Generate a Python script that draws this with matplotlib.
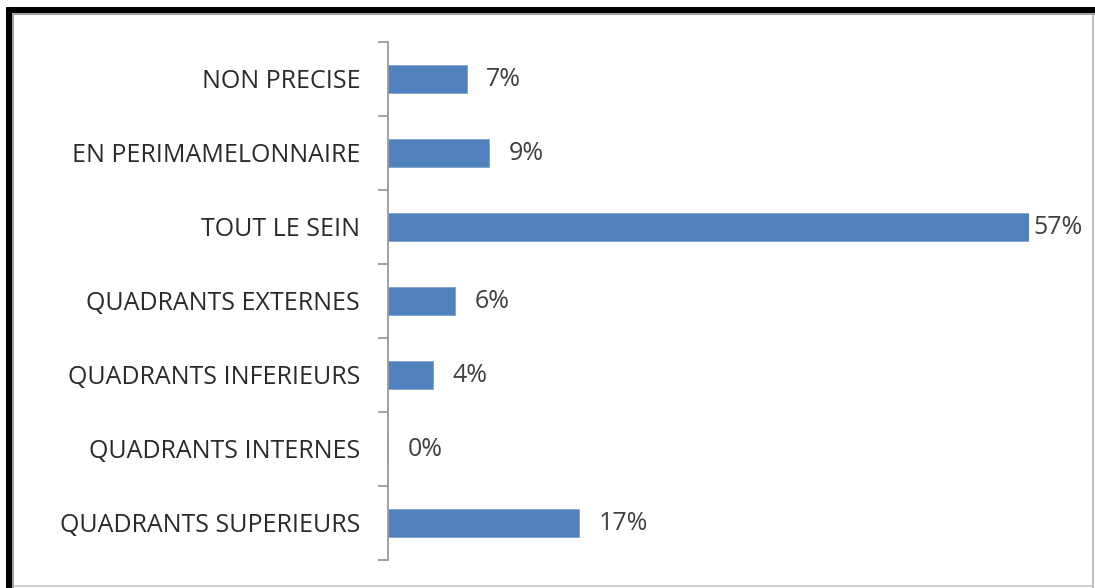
import matplotlib

matplotlib.use("Agg")

import matplotlib.pyplot as plt  # noqa: E402
from matplotlib.patches import Rectangle  # noqa: E402

categories = ["NON PRECISE", "EN PERIMAMELONNAIRE", "TOUT LE SEIN", "QUADRANTS EXTERNES",
              "QUADRANTS INFERIEURS", "QUADRANTS INTERNES", "QUADRANTS SUPERIEURS"]
values = [7, 9, 57, 6, 4, 0, 17]
value_labels = ["7%", "9%", "57%", "6%", "4%", "0%", "17%"]

W, H = 1095, 588
plt.rcParams["font.family"] = ["Open Sans", "DejaVu Sans"]

fig = plt.figure(figsize=(W / 100, H / 100), dpi=100)
fig.patch.set_facecolor("white")

# frame: thick black left/top edge, thin grey inner line, grey right/bottom
def px_rect(x0, y0, x1, y1, color):
    fig.patches.append(Rectangle((x0 / W, 1 - y1 / H), (x1 - x0) / W, (y1 - y0) / H,
                                 transform=fig.transFigure, color=color, lw=0, zorder=0))

px_rect(6, 7, 1095, 13, "black")
px_rect(6, 7, 12, 588, "black")
px_rect(12, 13, 1095, 15, "#a0a0a0")
px_rect(12, 13, 14, 588, "#a0a0a0")
px_rect(1092, 15, 1094, 588, "#c0c0c0")
px_rect(14, 585, 1092, 587, "#d0d0d0")

ax = fig.add_axes([388 / W, 1 - 560 / H, (1029 - 388) / W, (560 - 42) / H])
ax.set_facecolor("none")
ys = list(range(len(categories)))
ax.barh(ys, values, height=0.38, color="#4f81bd", edgecolor="#7fa3d0", linewidth=0.6)
ax.set_ylim(len(categories) - 0.5, -0.5)
ax.set_xlim(0, 57)

for y, v, lab in zip(ys, values, value_labels):
    ax.annotate(lab, (v, y), xytext=(14 if v < 50 else 3, 0), textcoords="offset points",
                ha="left", va="center", fontsize=18, color="#404040", annotation_clip=False)

ax.set_yticks(ys)
ax.set_yticklabels(categories, fontsize=18, color="#2a2a2a")
ax.set_yticks([i - 0.5 for i in range(len(categories) + 1)], minor=True)
ax.tick_params(axis="y", which="major", length=0, pad=20)
ax.tick_params(axis="y", which="minor", length=7, width=1.3, color="#999999", direction="out")
ax.set_xticks([])
for side in ("top", "right", "bottom"):
    ax.spines[side].set_visible(False)
ax.spines["left"].set_color("#999999")
ax.spines["left"].set_linewidth(1.3)

fig.savefig("out.png", dpi=100)
